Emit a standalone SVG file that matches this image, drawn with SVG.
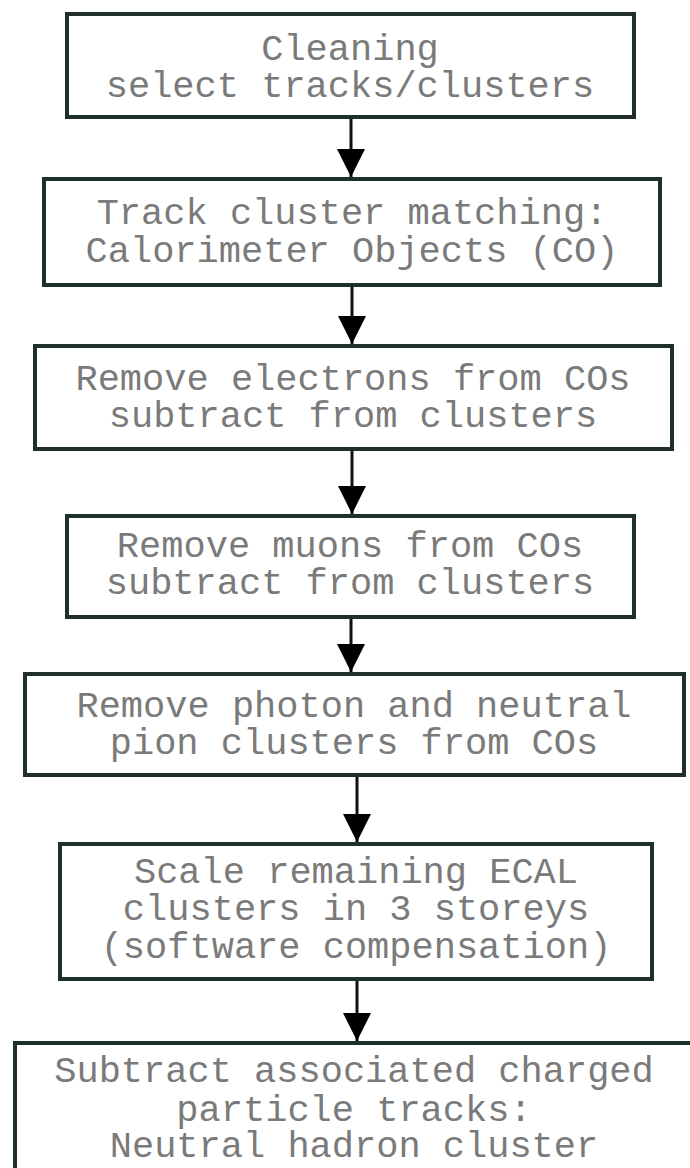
<svg xmlns="http://www.w3.org/2000/svg" width="690" height="1168" viewBox="0 0 690 1168">
<defs>
<style>
.box{fill:#ffffff;stroke:#1f2f2b;stroke-width:4}
.t{font-family:"Liberation Mono","Courier New",monospace;font-size:37px;fill:#7a7a7a;text-anchor:middle}
.c{stroke:#111;stroke-width:3;fill:none;marker-end:url(#ah)}
</style>
<marker id="ah" markerUnits="userSpaceOnUse" viewBox="0 0 28 28" refX="28" refY="14" markerWidth="28" markerHeight="28" orient="auto">
<path d="M0,0 L28,14 L0,28 z" fill="#000"/>
</marker>
</defs>
<rect width="690" height="1168" fill="#ffffff"/>
<g id="connectors">
<line class="c" x1="351" y1="117" x2="351" y2="177"/>
<line class="c" x1="352" y1="285" x2="352" y2="344"/>
<line class="c" x1="352" y1="449" x2="352" y2="514"/>
<line class="c" x1="351" y1="617" x2="351" y2="672"/>
<line class="c" x1="357" y1="775" x2="357" y2="842"/>
<line class="c" x1="357" y1="979" x2="357" y2="1041"/>
</g>
<g id="n1">
<rect class="box" x="67" y="14" width="567" height="103"/>
<text class="t" x="350" y="60">Cleaning</text>
<text class="t" x="350" y="97">select tracks/clusters</text>
</g>
<g id="n2">
<rect class="box" x="44" y="179" width="616" height="106"/>
<text class="t" x="352" y="224">Track cluster matching:</text>
<text class="t" x="352" y="262">Calorimeter Objects (CO)</text>
</g>
<g id="n3">
<rect class="box" x="35" y="346" width="637" height="103"/>
<text class="t" x="353" y="390">Remove electrons from COs</text>
<text class="t" x="353" y="427">subtract from clusters</text>
</g>
<g id="n4">
<rect class="box" x="67" y="516" width="567" height="101"/>
<text class="t" x="350" y="557">Remove muons from COs</text>
<text class="t" x="350" y="594">subtract from clusters</text>
</g>
<g id="n5">
<rect class="box" x="25" y="674" width="659" height="101"/>
<text class="t" x="354" y="717">Remove photon and neutral</text>
<text class="t" x="354" y="754">pion clusters from COs</text>
</g>
<g id="n6">
<rect class="box" x="60" y="844" width="592" height="135"/>
<text class="t" x="356" y="883">Scale remaining ECAL</text>
<text class="t" x="356" y="920">clusters in 3 storeys</text>
<text class="t" x="356" y="958">(software compensation)</text>
</g>
<g id="n7">
<rect class="box" x="15" y="1043" width="700" height="200"/>
<text class="t" x="354" y="1082">Subtract associated charged</text>
<text class="t" x="354" y="1121">particle tracks:</text>
<text class="t" x="354" y="1157">Neutral hadron cluster</text>
</g>
</svg>
